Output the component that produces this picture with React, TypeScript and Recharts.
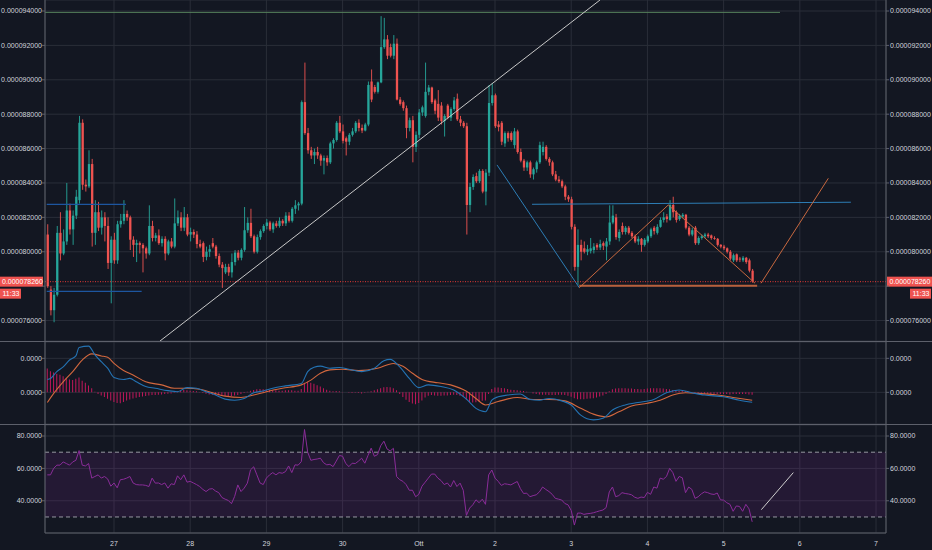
import React from 'react'
import {
  ComposedChart, Bar, Line, XAxis, YAxis, CartesianGrid, ReferenceLine, ReferenceArea,
} from 'recharts'

const FONT = '"Liberation Sans", Arial, sans-serif'
const BG = '#131722'
const GRID = '#2a2e39'
const AXIS = '#5d606b'
const TEXT = '#d1d4dc'
const UP = '#26a69a'
const DOWN = '#ef5350'

const W = 932
const LEFT_W = 45
const RIGHT_W = 46
const T_DOMAIN: [number, number] = [0.0945, 11.131]

// time axis: days since Sep 26, hourly candles
const FIRST_HOUR = 0.125
const HOUR = 1 / 24
const dayTicks = [1, 2, 3, 4, 5, 6, 7, 8, 9, 10, 11]
const dayLabels = ['27', '28', '29', '30', 'Ott', '2', '3', '4', '5', '6', '7']

// price in units of 1e-8
const PRICE_DOMAIN: [number, number] = [7481, 9464]
const priceTicks = [7600, 7800, 8000, 8200, 8400, 8600, 8800, 9000, 9200, 9400]
const lastPrice = 7826
const lastTime = '11:33'
// tick label hidden behind the last-price tag
const coveredTick = 7800

// [open, high, low, close]
const candles: number[][] = [
  [8100, 8160, 7790, 7800], [7780, 7800, 7630, 7660], [7660, 7790, 7590, 7750], [7750, 8150, 7740, 8110], [8110, 8230, 7950, 7990],
  [7990, 8130, 7980, 8060], [8060, 8400, 8040, 8240], [8240, 8280, 8100, 8130], [8130, 8240, 8040, 8210], [8210, 8360, 8190, 8320],
  [8300, 8790, 8280, 8750], [8750, 8770, 8360, 8390], [8390, 8420, 8350, 8380], [8380, 8590, 8370, 8510], [8510, 8540, 8030, 8110],
  [8110, 8300, 8040, 8230], [8230, 8290, 8120, 8140], [8140, 8240, 8100, 8200], [8200, 8230, 8060, 8150], [8150, 8200, 7900, 7935],
  [7935, 8090, 7700, 8070], [8070, 8110, 7930, 7950], [7950, 8180, 7930, 8160], [8160, 8220, 8140, 8180], [8180, 8300, 8160, 8220],
  [8220, 8240, 8180, 8200], [8200, 8210, 8010, 8070], [8070, 8090, 7970, 8040], [8040, 8070, 7940, 8050], [8050, 8060, 7990, 8040],
  [8040, 8050, 7880, 8020], [8020, 8030, 7960, 7990], [7990, 8270, 7980, 8150], [8150, 8180, 8060, 8080], [8080, 8110, 8060, 8095],
  [8095, 8130, 8040, 8050], [8050, 8090, 8030, 8075], [8075, 8090, 7950, 7990], [7990, 8070, 7980, 8060], [8060, 8080, 8020, 8030],
  [8030, 8310, 8020, 8165], [8165, 8240, 8150, 8200], [8200, 8230, 8120, 8140], [8140, 8260, 8120, 8200], [8200, 8220, 8090, 8100],
  [8100, 8140, 8060, 8115], [8115, 8130, 8080, 8100], [8100, 8120, 8020, 8045], [8045, 8070, 8020, 8030], [8050, 8060, 7940, 7970],
  [7970, 8030, 7950, 8000], [8000, 8040, 7970, 8015], [8050, 8080, 8020, 8030], [8030, 8040, 7960, 7975], [7975, 7990, 7910, 7925],
  [7925, 7940, 7790, 7905], [7880, 7930, 7870, 7912], [7912, 7930, 7860, 7880], [7880, 7990, 7850, 7940], [7940, 8010, 7920, 7995],
  [7995, 8010, 7950, 7965], [7965, 8020, 7950, 8011], [8011, 8260, 8000, 8125], [8125, 8200, 8110, 8168], [8168, 8250, 8080, 8090],
  [8090, 8100, 7990, 8000], [8000, 8100, 7990, 8085], [8085, 8130, 8070, 8120], [8120, 8160, 8110, 8150], [8150, 8190, 8130, 8170],
  [8170, 8180, 8120, 8130], [8130, 8175, 8110, 8165], [8165, 8180, 8140, 8150], [8150, 8200, 8140, 8180], [8180, 8190, 8150, 8165],
  [8165, 8230, 8150, 8210], [8210, 8230, 8170, 8180], [8180, 8260, 8170, 8250], [8250, 8300, 8220, 8270], [8270, 8290, 8240, 8280],
  [8280, 8880, 8270, 8870], [8870, 9100, 8680, 8690], [8690, 8720, 8570, 8590], [8590, 8610, 8540, 8560], [8560, 8600, 8510, 8580],
  [8580, 8610, 8540, 8560], [8560, 8570, 8500, 8530], [8530, 8560, 8450, 8545], [8545, 8560, 8500, 8520], [8520, 8640, 8510, 8630],
  [8630, 8660, 8600, 8650], [8650, 8760, 8640, 8750], [8750, 8790, 8690, 8700], [8700, 8740, 8630, 8645], [8660, 8670, 8560, 8640],
  [8640, 8690, 8620, 8680], [8680, 8720, 8670, 8700], [8700, 8760, 8690, 8750], [8750, 8770, 8700, 8720], [8720, 8740, 8690, 8705],
  [8705, 8750, 8700, 8740], [8740, 8990, 8730, 8970], [8990, 9060, 8870, 8885], [8958, 8970, 8920, 8930], [8930, 8990, 8920, 8985],
  [8985, 9370, 8980, 9190], [9190, 9360, 9180, 9235], [9235, 9260, 9120, 9140], [9190, 9210, 9130, 9140], [9140, 9260, 9120, 9210],
  [9210, 9240, 8880, 8885], [8885, 8900, 8850, 8860], [8870, 8880, 8820, 8835], [8835, 8850, 8660, 8720], [8720, 8780, 8700, 8765],
  [8765, 8790, 8520, 8610], [8610, 8700, 8580, 8680], [8680, 8830, 8660, 8810], [8810, 8850, 8790, 8840], [8790, 9100, 8780, 8930],
  [8930, 8970, 8910, 8955], [8955, 8960, 8860, 8870], [8880, 8890, 8800, 8820], [8860, 8940, 8760, 8780], [8850, 8870, 8740, 8760],
  [8760, 8800, 8670, 8790], [8850, 8860, 8770, 8780], [8780, 8840, 8760, 8830], [8830, 8900, 8820, 8880], [8890, 8920, 8760, 8770],
  [8770, 8790, 8730, 8750], [8750, 8760, 8720, 8730], [8730, 8750, 8100, 8272], [8272, 8400, 8230, 8377], [8377, 8450, 8360, 8435],
  [8440, 8460, 8400, 8410], [8410, 8480, 8400, 8470], [8470, 8480, 8340, 8350], [8350, 8480, 8270, 8460], [8460, 8970, 8440, 8865],
  [8865, 8980, 8850, 8910], [8910, 8920, 8720, 8730], [8740, 8760, 8700, 8725], [8750, 8760, 8620, 8640], [8630, 8700, 8610, 8690],
  [8690, 8700, 8640, 8660], [8690, 8700, 8640, 8650], [8620, 8720, 8600, 8700], [8700, 8710, 8570, 8580], [8580, 8600, 8520, 8530],
  [8530, 8540, 8470, 8490], [8490, 8530, 8470, 8520], [8520, 8530, 8430, 8450], [8450, 8490, 8420, 8480], [8480, 8530, 8460, 8520],
  [8520, 8640, 8510, 8620], [8580, 8640, 8560, 8610], [8610, 8620, 8530, 8540], [8540, 8550, 8500, 8520], [8520, 8530, 8440, 8450],
  [8450, 8470, 8410, 8420], [8420, 8440, 8400, 8410], [8410, 8420, 8370, 8380], [8380, 8390, 8300, 8320], [8320, 8330, 8290, 8305],
  [8305, 8320, 8130, 8145], [8145, 8160, 7890, 7912], [7912, 8130, 7807, 8040], [8040, 8070, 7950, 8000], [8020, 8060, 7990, 8000],
  [8000, 8040, 7980, 8015], [8005, 8080, 7990, 8020], [8010, 8050, 7990, 8030], [8040, 8050, 8010, 8025], [8025, 8070, 8010, 8045],
  [8050, 8060, 8010, 8035], [8030, 8080, 7950, 8060], [8060, 8270, 8040, 8170], [8170, 8270, 8160, 8210], [8200, 8220, 8070, 8085],
  [8080, 8130, 8060, 8115], [8150, 8170, 8100, 8115], [8115, 8150, 8100, 8140], [8140, 8150, 8100, 8110], [8110, 8120, 8080, 8090],
  [8090, 8100, 8050, 8060], [8060, 8090, 8040, 8075], [8075, 8080, 8000, 8040], [8040, 8080, 8030, 8070], [8060, 8100, 8050, 8090],
  [8090, 8140, 8080, 8130], [8140, 8150, 8100, 8120], [8110, 8160, 8100, 8145], [8145, 8200, 8140, 8185], [8185, 8230, 8170, 8200],
  [8205, 8220, 8170, 8190], [8185, 8300, 8180, 8272], [8272, 8320, 8200, 8230], [8230, 8240, 8170, 8185], [8190, 8220, 8180, 8210],
  [8205, 8225, 8195, 8215], [8215, 8220, 8130, 8140], [8140, 8150, 8090, 8100], [8100, 8140, 8090, 8125], [8140, 8150, 8040, 8050],
  [8050, 8090, 8040, 8080], [8080, 8100, 8070, 8090], [8090, 8110, 8080, 8100], [8100, 8110, 8080, 8090], [8095, 8100, 8070, 8080],
  [8080, 8090, 8070, 8075], [8075, 8080, 8030, 8040], [8040, 8045, 8020, 8030], [8030, 8040, 8010, 8020], [8020, 8025, 7990, 8000],
  [8000, 8010, 7950, 7960], [7950, 7990, 7940, 7980], [7985, 7990, 7940, 7950], [7960, 7970, 7940, 7955], [7950, 7975, 7940, 7965],
  [7965, 7970, 7930, 7940], [7950, 7960, 7880, 7890], [7890, 7900, 7820, 7826],
]

// MACD, signal: [candle index, value]; histogram one per candle
const macdLine = [
  [0, 0.38], [1, 0.41], [3, 0.61], [5, 0.75], [7, 0.95], [9, 1.07], [10, 1.32], [13, 1.36], [15, 1.10], [17, 0.90],
  [19, 0.71], [21, 0.44], [24, 0.38], [26, 0.41], [28, 0.31], [31, 0.17], [34, 0.12], [38, 0.05], [41, 0.02], [44, 0.14],
  [47, 0.12], [50, 0.02], [53, -0.08], [56, -0.20], [59, -0.23], [62, -0.18], [65, -0.01], [68, 0.04], [71, 0.12], [75, 0.19],
  [80, 0.26], [82, 0.61], [84, 0.74], [86, 0.77], [89, 0.71], [92, 0.73], [95, 0.68], [99, 0.61], [103, 0.71], [106, 0.93],
  [108, 0.97], [111, 0.75], [114, 0.41], [117, 0.14], [120, 0.22], [124, 0.17], [128, 0.07], [132, -0.20], [135, -0.47], [138, -0.57],
  [140, -0.23], [142, -0.13], [145, -0.08], [149, -0.05], [152, -0.21], [155, -0.23], [158, -0.18], [162, -0.25], [165, -0.37], [168, -0.67],
  [172, -0.81], [175, -0.76], [178, -0.52], [182, -0.37], [186, -0.30], [191, -0.21], [195, -0.01], [199, 0.07], [203, -0.01], [207, -0.08],
  [213, -0.13], [218, -0.23], [222, -0.29],
]
const signalLine = [
  [0, -0.30], [2, -0.03], [5, 0.31], [8, 0.61], [11, 0.95], [14, 1.13], [17, 1.07], [19, 1.03], [21, 0.85], [24, 0.64],
  [27, 0.51], [31, 0.31], [36, 0.22], [40, 0.12], [44, 0.12], [48, 0.09], [52, -0.01], [56, -0.11], [61, -0.15], [65, -0.08],
  [69, 0.02], [74, 0.12], [80, 0.22], [83, 0.36], [86, 0.56], [89, 0.66], [93, 0.68], [98, 0.64], [104, 0.71], [109, 0.85],
  [112, 0.77], [115, 0.56], [118, 0.38], [123, 0.28], [127, 0.22], [132, 0.03], [135, -0.18], [138, -0.37], [142, -0.27], [148, -0.15],
  [153, -0.21], [158, -0.21], [163, -0.25], [168, -0.47], [172, -0.64], [176, -0.72], [180, -0.57], [184, -0.40], [189, -0.32], [193, -0.23],
  [197, -0.08], [201, -0.01], [205, -0.03], [211, -0.08], [216, -0.15], [222, -0.23],
]
const histogram = [
  0.70, 0.62, 0.58, 0.55, 0.52, 0.47, 0.42, 0.38, 0.36, 0.40,
  0.44, 0.34, 0.28, 0.20, 0.12, 0.02, -0.05, -0.09, -0.14, -0.19,
  -0.24, -0.28, -0.31, -0.32, -0.28, -0.24, -0.21, -0.18, -0.16, -0.14,
  -0.12, -0.11, -0.09, -0.08, -0.08, -0.07, -0.06, -0.05, -0.04, -0.03,
  -0.01, 0.03, 0.05, 0.07, 0.06, 0.05, 0.04, 0.03, 0.01, -0.02,
  -0.04, -0.06, -0.07, -0.08, -0.09, -0.10, -0.11, -0.12, -0.11, -0.09,
  -0.08, -0.05, -0.02, 0.02, 0.05, 0.07, 0.09, 0.10, 0.09, 0.08,
  0.07, 0.06, 0.06, 0.05, 0.05, 0.06, 0.06, 0.06, 0.05, 0.05,
  0.10, 0.28, 0.31, 0.28, 0.25, 0.21, 0.17, 0.12, 0.08, 0.05,
  0.03, 0.04, 0.03, 0.01, 0.00, -0.01, -0.02, -0.01, -0.02, -0.03,
  -0.01, 0.02, 0.03, 0.06, 0.09, 0.12, 0.15, 0.16, 0.15, 0.12,
  0.06, -0.05, -0.14, -0.22, -0.28, -0.33, -0.35, -0.31, -0.24, -0.15,
  -0.10, -0.08, -0.09, -0.10, -0.10, -0.09, -0.09, -0.08, -0.07, -0.08,
  -0.10, -0.14, -0.22, -0.28, -0.30, -0.29, -0.27, -0.25, -0.24, -0.05,
  0.10, 0.14, 0.14, 0.13, 0.12, 0.10, 0.08, 0.07, 0.06, 0.05,
  0.04, 0.02, 0.00, -0.03, -0.05, -0.06, -0.07, -0.07, -0.08, -0.08,
  -0.08, -0.07, -0.07, -0.08, -0.10, -0.13, -0.17, -0.20, -0.20, -0.20,
  -0.19, -0.18, -0.17, -0.15, -0.12, -0.09, -0.05, 0.03, 0.09, 0.11,
  0.12, 0.12, 0.12, 0.11, 0.11, 0.10, 0.10, 0.09, 0.10, 0.11,
  0.12, 0.12, 0.12, 0.12, 0.11, 0.10, 0.09, 0.07, 0.06, 0.05,
  0.05, 0.03, 0.02, 0.01, -0.02, -0.03, -0.03, -0.04, -0.04, -0.05,
  -0.05, -0.05, -0.05, -0.05, -0.05, -0.06, -0.05, -0.05, -0.05, -0.05,
  -0.05, -0.06, -0.07,
]
const MACD_DOMAIN: [number, number] = [-0.93, 1.48]
const macdTicks = [0, 1]

// RSI one per candle
const rsi = [
  56, 56, 60, 62, 62, 64, 63, 62, 64, 65,
  71, 62, 61.5, 63, 54, 55, 56, 54, 55, 53.5,
  49, 51, 48, 53, 53.3, 54, 55, 51, 50, 49.8,
  49.8, 49.5, 48.8, 54, 50.9, 51, 50, 51, 47.8, 50.5,
  50, 55.4, 53, 56, 51.5, 52, 51, 50, 48.8, 47,
  45.7, 47.2, 47.5, 46, 45, 42, 41, 40.2, 38.2, 42.7,
  49.8, 45.7, 47.8, 50.9, 59.1, 61, 56, 51, 50, 54,
  56, 57.4, 56, 57.4, 57, 58, 61.5, 57.4, 62.2, 62,
  64.2, 84, 70, 65, 65.5, 65.8, 66.3, 63.5, 62.2, 62.5,
  61.1, 64.5, 68, 67.5, 63, 61.1, 63.2, 63, 64.5, 66.3,
  63.2, 68, 72.5, 67.5, 68.5, 74, 76.8, 72, 70.8, 72.4,
  55, 53, 52, 50, 46.5, 46.5, 42.5, 44, 49, 51.5,
  54, 56.5, 56.5, 54, 52.5, 50, 51, 48.5, 52.5, 48.8,
  50.9, 46.5, 31, 35.5, 37.5, 40.6, 38.8, 41, 37.8, 56,
  59, 54, 52, 49.5, 50.5, 50.2, 49.8, 50.9, 51.9, 47.5,
  44.5, 44.7, 42.5, 43.2, 43.7, 45.5, 48.5, 47, 45.7, 44,
  41.5, 41, 40.5, 38.3, 37.5, 34, 25, 32.4, 32.4, 31.6,
  32, 32.2, 32.6, 33.2, 33.8, 34.3, 35.8, 45.5, 48.5, 42.5,
  43.2, 45, 44.5, 44.2, 43.7, 42.2, 41.5, 42.3, 42, 45.2,
  44, 48.5, 47.8, 54, 53.3, 55, 60, 57.4, 52, 55,
  54.2, 45, 48.5, 47, 41.5, 42.5, 44.3, 45.5, 45, 44.2,
  43.9, 44.8, 40.6, 40.4, 38.8, 37.8, 33.5, 36.8, 36.5, 33.5,
  37.8, 35, 27,
]
const RSI_DOMAIN: [number, number] = [20.1, 86.8]
const rsiTicks = [40, 60, 80]
const rsiBand = [30, 70]

// drawn lines, each [[t, price], [t, price]]
const greenLevel = [[[0.0945, 9392], [9.74, 9392]]]
const whiteTrend = [[[1.604, 7481], [7.378, 9464]]]
const darkBlueLevels = [[[0.117, 8276], [1.158, 8276]], [[0.117, 7770], [1.363, 7770]]]
const blueLines = [[[6.026, 8505], [7.106, 7791]], [[6.486, 8276], [10.67, 8288]]]
const orangePattern = [
  [[7.106, 7791], [8.274, 8272]],
  [[8.274, 8272], [9.412, 7817]],
  [[9.491, 7817], [10.374, 8427]],
]
const orangeBase = [[[7.106, 7803], [9.44, 7803]]]
const rsiTrend = [[[9.495, 34.5], [9.915, 57.4]]]

const candleData = candles.map(([o, h, l, c], i) => ({ t: FIRST_HOUR + i * HOUR, o, h, l, c }))
const histData = histogram.map((v, i) => ({ t: FIRST_HOUR + i * HOUR, v }))
const toPoints = (rows: number[][]) => rows.map(([i, v]) => ({ t: FIRST_HOUR + i * HOUR, v }))
const macdData = toPoints(macdLine)
const signalData = toPoints(signalLine)
const rsiData = rsi.map((v, i) => ({ t: FIRST_HOUR + i * HOUR, v }))

const tickStyle = { fill: TEXT, fontSize: 7, fontFamily: FONT }
const fmtPrice = (v: number) => (v * 1e-8).toFixed(9)
const fmtPriceTick = (v: number) => (v === coveredTick ? '' : fmtPrice(v))

function Candle(props: any) {
  const { x, y, width, height, payload } = props
  if (!payload || height == null) return null
  const { o, h, l, c } = payload
  const top = Math.min(y, y + height)
  const span = Math.abs(height)
  const k = span / (h - l)
  const cx = x + width / 2
  const bTop = top + (h - Math.max(o, c)) * k
  const bBot = top + (h - Math.min(o, c)) * k
  const col = c >= o ? UP : DOWN
  return (
    <g>
      <line x1={cx} x2={cx} y1={top} y2={top + span} stroke={col} strokeWidth={0.9} />
      <rect x={cx - 1.15} width={2.3} y={bTop} height={Math.max(bBot - bTop, 0.8)} fill={col} />
    </g>
  )
}

function PriceTag(props: any) {
  const vb = props.viewBox || {}
  const y = vb.y
  const x0 = vb.x
  const x1 = vb.x + vb.width
  const label = fmtPrice(lastPrice)
  return (
    <g fontFamily={FONT} fontSize={7}>
      <rect x={0} y={y - 5} width={x0 - 2} height={10} fill={DOWN} />
      <text x={2} y={y + 2.5} fill="#fff">{label}</text>
      <rect x={0} y={y + 7} width={21} height={10} fill={DOWN} />
      <text x={2.5} y={y + 14.5} fill="#fff">{lastTime}</text>
      <rect x={x1 + 1} y={y - 5} width={W - x1 - 1} height={10} fill={DOWN} />
      <text x={x1 + 3.5} y={y + 2.5} fill="#fff">{label}</text>
      <rect x={x1 + 24} y={y + 7} width={21} height={10} fill={DOWN} />
      <text x={x1 + 26.5} y={y + 14.5} fill="#fff">{lastTime}</text>
    </g>
  )
}

const seg = (s: number[][]) => [{ x: s[0][0], y: s[0][1] }, { x: s[1][0], y: s[1][1] }] as any

function yAxes(domain: [number, number], ticks: number[], fmt: (v: number) => string) {
  return [
    <YAxis key="l" type="number" domain={domain} ticks={ticks} width={LEFT_W} orientation="left"
      tick={tickStyle} tickFormatter={fmt} tickSize={3} tickMargin={0}
      axisLine={{ stroke: AXIS }} tickLine={{ stroke: AXIS }} allowDataOverflow interval={0} />,
    <YAxis key="r" yAxisId="r" type="number" domain={domain} ticks={ticks} width={RIGHT_W} orientation="right"
      tick={tickStyle} tickFormatter={fmt} tickSize={3} tickMargin={1}
      axisLine={{ stroke: AXIS }} tickLine={{ stroke: AXIS }} allowDataOverflow interval={0} />,
  ]
}

function hiddenX() {
  return <XAxis type="number" dataKey="t" domain={T_DOMAIN} ticks={dayTicks} hide allowDataOverflow />
}

export default function App() {
  return (
    <div style={{ position: 'fixed', left: 0, top: 0, width: W, height: 550, background: BG, overflow: 'hidden' }}>

      <div style={{ position: 'absolute', left: 0, top: 0 }}>
        <ComposedChart width={W} height={341} data={candleData} margin={{ top: 0, right: 0, bottom: 0, left: 0 }}>
          <CartesianGrid stroke={GRID} />
          {hiddenX()}
          {yAxes(PRICE_DOMAIN, priceTicks, fmtPriceTick)}
          <Bar dataKey={(d: any) => [d.l, d.h]} barSize={2} shape={(p: any) => <Candle {...p} />} isAnimationActive={false} />
          {greenLevel.map((s, i) => (
            <ReferenceLine key={'g' + i} segment={seg(s)} stroke="#55805a" strokeWidth={1} ifOverflow="visible" />
          ))}
          {darkBlueLevels.map((s, i) => (
            <ReferenceLine key={'d' + i} segment={seg(s)} stroke="#1d56a0" strokeWidth={1.2} ifOverflow="visible" />
          ))}
          {blueLines.map((s, i) => (
            <ReferenceLine key={'b' + i} segment={seg(s)} stroke="#2d7db5" strokeWidth={1} ifOverflow="visible" />
          ))}
          {orangeBase.map((s, i) => (
            <ReferenceLine key={'ob' + i} segment={seg(s)} stroke="#b8613c" strokeWidth={2} ifOverflow="visible" />
          ))}
          {orangePattern.map((s, i) => (
            <ReferenceLine key={'o' + i} segment={seg(s)} stroke="#c8683f" strokeWidth={1} ifOverflow="visible" />
          ))}
          {whiteTrend.map((s, i) => (
            <ReferenceLine key={'w' + i} segment={seg(s)} stroke="#c8c8c8" strokeWidth={1} ifOverflow="visible" />
          ))}
          <ReferenceLine y={lastPrice} stroke="#e53935" strokeDasharray="1 1.5" strokeWidth={1}
            ifOverflow="visible" label={(p: any) => <PriceTag {...p} />} />
        </ComposedChart>
      </div>
      <div style={{ position: 'absolute', left: 0, top: 341, width: W, height: 1, background: AXIS }} />

      <div style={{ position: 'absolute', left: 0, top: 342 }}>
        <ComposedChart width={W} height={82} data={histData} margin={{ top: 0, right: 0, bottom: 0, left: 0 }}>
          <CartesianGrid stroke={GRID} />
          {hiddenX()}
          {yAxes(MACD_DOMAIN, macdTicks, (v: number) => (v * 1e-7).toFixed(4))}
          <Bar dataKey="v" fill="#c2185b" barSize={1} isAnimationActive={false} />
          <Line data={signalData} dataKey="v" type="monotone" stroke="#d3683e" strokeWidth={1.1} dot={false} isAnimationActive={false} />
          <Line data={macdData} dataKey="v" type="monotone" stroke="#2473b3" strokeWidth={1.1} dot={false} isAnimationActive={false} />
        </ComposedChart>
      </div>
      <div style={{ position: 'absolute', left: 0, top: 424, width: W, height: 1, background: AXIS }} />

      <div style={{ position: 'absolute', left: 0, top: 425 }}>
        <ComposedChart width={W} height={125} data={rsiData} margin={{ top: 0, right: 0, bottom: 0, left: 0 }}>
          <ReferenceArea y1={rsiBand[0]} y2={rsiBand[1]} fill="#9c27b0" fillOpacity={0.13} stroke="none" ifOverflow="visible" />
          <CartesianGrid stroke={GRID} />
          <XAxis type="number" dataKey="t" domain={T_DOMAIN} ticks={dayTicks} allowDataOverflow height={17}
            tickFormatter={(v: number) => dayLabels[dayTicks.indexOf(v)] ?? ''}
            tick={tickStyle} tickLine={false} axisLine={{ stroke: AXIS }} interval={0} />
          {yAxes(RSI_DOMAIN, rsiTicks, (v: number) => v.toFixed(4))}
          {rsiBand.map((v) => (
            <ReferenceLine key={v} y={v} stroke="#9598a1" strokeDasharray="4 3" strokeWidth={1} />
          ))}
          <Line dataKey="v" type="linear" stroke="#8a2c99" strokeWidth={1} dot={false} isAnimationActive={false} />
          {rsiTrend.map((s, i) => (
            <ReferenceLine key={'rt' + i} segment={seg(s)} stroke="#cfcfcf" strokeWidth={1} ifOverflow="visible" />
          ))}
        </ComposedChart>
      </div>
    </div>
  )
}
